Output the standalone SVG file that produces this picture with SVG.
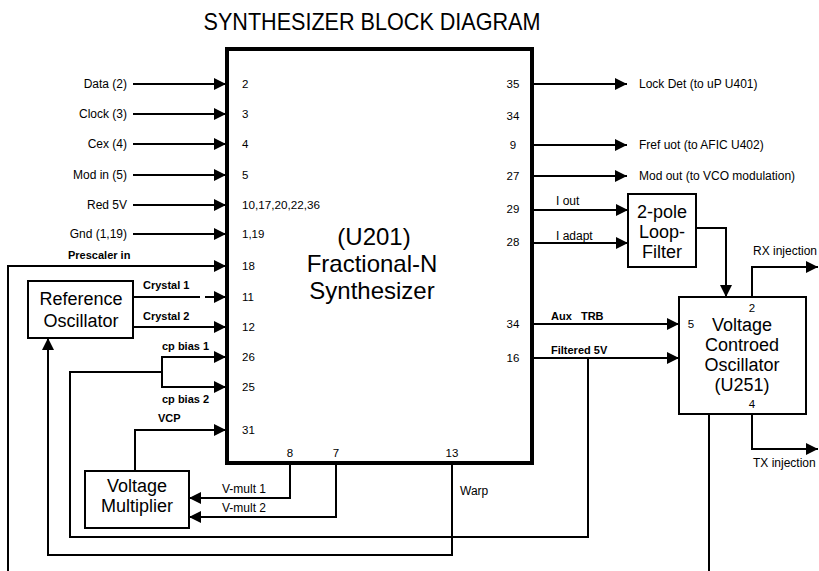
<svg xmlns="http://www.w3.org/2000/svg" width="819" height="571" viewBox="0 0 819 571">
<style>
text{font-family:"Liberation Sans",Arial,sans-serif;fill:#000}
.t{font-size:24px}
.big{font-size:18px;text-anchor:middle}
.lbl{font-size:12px}
.r{text-anchor:end}
.m{text-anchor:middle}
.b{font-size:11px;font-weight:bold}
.pin{font-size:11.5px}
.box{fill:#fff;stroke:#000;stroke-width:2}
.main{fill:#fff;stroke:#000;stroke-width:4}
.w{fill:none;stroke:#000;stroke-width:2}
.a{fill:none;stroke:#000;stroke-width:2;marker-end:url(#ah)}
</style>
<defs>
<marker id="ah" markerUnits="userSpaceOnUse" markerWidth="13" markerHeight="13" refX="12" refY="6" orient="auto">
<path d="M0,0 L12,6 L0,12 z" fill="#000"/>
</marker>
</defs>
<rect width="819" height="571" fill="#fff"/>
<text x="372" y="30" class="t m" textLength="337" lengthAdjust="spacingAndGlyphs">SYNTHESIZER BLOCK DIAGRAM</text>

<g id="synth">
<rect class="main" x="227" y="49" width="305" height="414"/>
<text x="374" y="245" class="t m">(U201)</text>
<text x="372" y="272" class="t m">Fractional-N</text>
<text x="372" y="299" class="t m">Synthesizer</text>
<g class="pin">
<text x="242" y="88">2</text>
<text x="242" y="118">3</text>
<text x="242" y="148">4</text>
<text x="242" y="179">5</text>
<text x="242" y="209" textLength="78" lengthAdjust="spacingAndGlyphs">10,17,20,22,36</text>
<text x="242" y="238">1,19</text>
<text x="242" y="270">18</text>
<text x="242" y="301">11</text>
<text x="242" y="331">12</text>
<text x="242" y="361">26</text>
<text x="242" y="391">25</text>
<text x="242" y="434">31</text>
<text x="290" y="457" class="m">8</text>
<text x="336" y="457" class="m">7</text>
<text x="452" y="457" class="m">13</text>
<text x="513" y="88" class="m">35</text>
<text x="513" y="120" class="m">34</text>
<text x="513" y="149" class="m">9</text>
<text x="513" y="180" class="m">27</text>
<text x="513" y="213" class="m">29</text>
<text x="513" y="246" class="m">28</text>
<text x="513" y="328" class="m">34</text>
<text x="513" y="362" class="m">16</text>
</g>
</g>

<g id="refosc">
<rect class="box" x="28" y="281" width="105" height="57"/>
<text x="81" y="305" class="big">Reference</text>
<text x="81" y="327" class="big">Oscillator</text>
</g>

<g id="vmult">
<rect class="box" x="85" y="471" width="104" height="57"/>
<text x="137" y="492" class="big">Voltage</text>
<text x="137" y="512" class="big">Multiplier</text>
</g>

<g id="loopfilter">
<rect class="box" x="628" y="194" width="68" height="73"/>
<text x="662" y="218" class="big">2-pole</text>
<text x="662" y="238" class="big">Loop-</text>
<text x="662" y="258" class="big">Filter</text>
</g>

<g id="vco">
<rect class="box" x="679" y="297" width="127" height="117"/>
<text x="752" y="312" class="pin m">2</text>
<text x="691" y="328" class="pin m">5</text>
<text x="752" y="408" class="pin m">4</text>
<text x="742" y="331" class="big">Voltage</text>
<text x="742" y="351" class="big">Controed</text>
<text x="742" y="371" class="big">Oscillator</text>
<text x="742" y="391" class="big">(U251)</text>
</g>

<g id="connectors">
<path class="a" d="M133,84 H226"/>
<path class="a" d="M133,114 H226"/>
<path class="a" d="M133,144 H226"/>
<path class="a" d="M133,175 H226"/>
<path class="a" d="M133,205 H226"/>
<path class="a" d="M133,234 H226"/>
<path class="a" d="M8,571 V266 H226"/>
<path class="w" d="M133,297 H200"/>
<path class="a" d="M205,297 H226"/>
<path class="a" d="M133,327 H226"/>
<path class="a" d="M162,372 V357 H226"/>
<path class="a" d="M162,372 V387 H226"/>
<path class="a" d="M135,471 V430 H226"/>
<path class="a" d="M290,463 V498 H189"/>
<path class="a" d="M336,463 V517 H189"/>
<path class="a" d="M452,463 V555 H48 V338"/>
<path class="w" d="M588,358 V537 H70 V372 H162"/>
<path class="a" d="M532,84 H627"/>
<path class="a" d="M532,145 H627"/>
<path class="a" d="M532,176 H627"/>
<path class="a" d="M532,210 H628"/>
<path class="a" d="M532,243 H628"/>
<path class="a" d="M532,324 H679"/>
<path class="a" d="M532,358 H679"/>
<path class="a" d="M696,228 H726 V297"/>
<path class="a" d="M752,297 V267 H818"/>
<path class="a" d="M752,414 V449 H818"/>
<path class="w" d="M709,414 V571"/>
</g>

<g id="labels">
<text x="127" y="88" class="lbl r">Data (2)</text>
<text x="127" y="118" class="lbl r">Clock (3)</text>
<text x="127" y="148" class="lbl r">Cex (4)</text>
<text x="127" y="179" class="lbl r">Mod in (5)</text>
<text x="127" y="209" class="lbl r">Red 5V</text>
<text x="127" y="238" class="lbl r">Gnd (1,19)</text>
<text x="68" y="259" class="b">Prescaler in</text>
<text x="143" y="289" class="b">Crystal 1</text>
<text x="143" y="320" class="b">Crystal 2</text>
<text x="162" y="350" class="b">cp bias 1</text>
<text x="162" y="403" class="b">cp bias 2</text>
<text x="158" y="422" class="b">VCP</text>
<text x="222" y="493" class="lbl">V-mult 1</text>
<text x="222" y="512" class="lbl">V-mult 2</text>
<text x="460" y="495" class="lbl">Warp</text>
<text x="639" y="88" class="lbl">Lock Det (to uP U401)</text>
<text x="639" y="149" class="lbl">Fref uot (to AFIC U402)</text>
<text x="639" y="180" class="lbl">Mod out (to VCO modulation)</text>
<text x="556" y="205" class="lbl">I out</text>
<text x="556" y="240" class="lbl">I adapt</text>
<text x="551" y="320" class="b" xml:space="preserve">Aux   TRB</text>
<text x="551" y="354" class="b">Filtered 5V</text>
<text x="753" y="255" class="lbl">RX injection</text>
<text x="753" y="467" class="lbl">TX injection</text>
</g>
</svg>
